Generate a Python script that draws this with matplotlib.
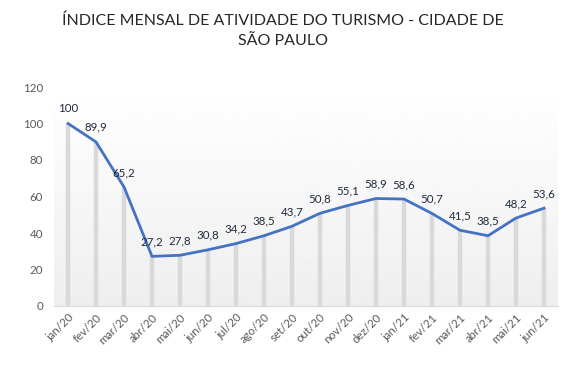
import matplotlib
matplotlib.use("Agg")
import matplotlib.pyplot as plt
import numpy as np

plt.rcParams['font.family'] = ['Lato', 'DejaVu Sans']

meses = ['jan/20', 'fev/20', 'mar/20', 'abr/20', 'mai/20', 'jun/20', 'jul/20', 'ago/20',
         'set/20', 'out/20', 'nov/20', 'dez/20', 'jan/21', 'fev/21', 'mar/21', 'abr/21',
         'mai/21', 'jun/21']
indice = [100, 89.9, 65.2, 27.2, 27.8, 30.8, 34.2, 38.5, 43.7, 50.8, 55.1, 58.9, 58.6,
          50.7, 41.5, 38.5, 48.2, 53.6]
rotulos = ['100', '89,9', '65,2', '27,2', '27,8', '30,8', '34,2', '38,5', '43,7', '50,8',
           '55,1', '58,9', '58,6', '50,7', '41,5', '38,5', '48,2', '53,6']

fig = plt.figure(figsize=(5.65, 3.75), dpi=100)
ax = fig.add_axes([0.0956, 0.184, 0.892, 0.584])

x = np.arange(len(meses))
ax.set_xlim(-0.5, len(meses) - 0.5)
ax.set_ylim(0, 120)

# fundo em degradê (branco em cima, cinza claro embaixo)
grad = np.linspace(0.935, 1.0, 256).reshape(-1, 1)
ax.imshow(grad, cmap='gray', vmin=0, vmax=1, aspect='auto', origin='lower',
          extent=[-0.5, len(meses) - 0.5, 0, 120], zorder=0)

ax.vlines(x, 0, indice, color='#d9d9d9', linewidth=3.2, zorder=1)
ax.plot(x, indice, color='#4472c4', linewidth=2, zorder=3)

for xi, yi, r in zip(x, indice, rotulos):
    ax.annotate(r, (xi, yi), xytext=(0, 6.5), textcoords='offset points',
                ha='center', va='bottom', fontsize=8.3, color='#1f2a3c', zorder=4)

ax.set_xticks(x)
ax.set_xticklabels(meses, rotation=45, ha='right', rotation_mode='anchor')
ax.set_yticks(np.arange(0, 121, 20))
ax.tick_params(length=0, labelsize=8.3, colors='#595959')
ax.tick_params(axis='y', pad=8)
ax.tick_params(axis='x', pad=4)

for s in ['top', 'right', 'left']:
    ax.spines[s].set_visible(False)
ax.spines['bottom'].set_color('#d9d9d9')

fig.text(0.5, 0.965, 'ÍNDICE MENSAL DE ATIVIDADE DO TURISMO - CIDADE DE\nSÃO PAULO',
         ha='center', va='top', fontsize=11.5, color='#262626', linespacing=1.6)

fig.savefig('out.png', dpi=100)
